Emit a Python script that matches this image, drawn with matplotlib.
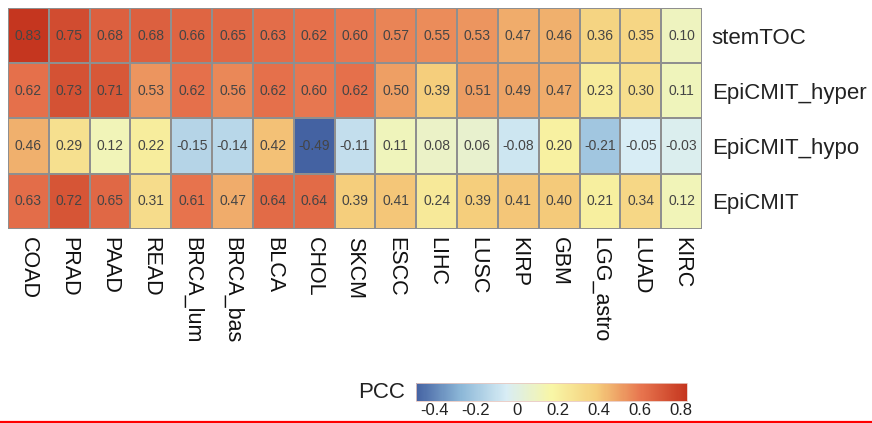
import numpy as np
import matplotlib
matplotlib.use("Agg")
import matplotlib.pyplot as plt
from matplotlib.colors import LinearSegmentedColormap, Normalize
from matplotlib.cm import ScalarMappable
from matplotlib.lines import Line2D

plt.rcParams['font.family'] = ['Liberation Sans', 'DejaVu Sans']

cancers = ["COAD", "PRAD", "PAAD", "READ", "BRCA_lum", "BRCA_bas", "BLCA", "CHOL",
           "SKCM", "ESCC", "LIHC", "LUSC", "KIRP", "GBM", "LGG_astro", "LUAD", "KIRC"]
scores = ["stemTOC", "EpiCMIT_hyper", "EpiCMIT_hypo", "EpiCMIT"]

stemTOC = [0.83, 0.75, 0.68, 0.68, 0.66, 0.65, 0.63, 0.62, 0.60, 0.57, 0.55, 0.53,
           0.47, 0.46, 0.36, 0.35, 0.10]
epicmit_hyper = [0.62, 0.73, 0.71, 0.53, 0.62, 0.56, 0.62, 0.60, 0.62, 0.50, 0.39,
                 0.51, 0.49, 0.47, 0.23, 0.30, 0.11]
epicmit_hypo = [0.46, 0.29, 0.12, 0.22, -0.15, -0.14, 0.42, -0.49, -0.11, 0.11, 0.08,
                0.06, -0.08, 0.20, -0.21, -0.05, -0.03]
epicmit = [0.63, 0.72, 0.65, 0.31, 0.61, 0.47, 0.64, 0.64, 0.39, 0.41, 0.24, 0.39,
           0.41, 0.40, 0.21, 0.34, 0.12]

cbar_ticks = [-0.4, -0.2, 0, 0.2, 0.4, 0.6, 0.8]
cbar_ticklabels = ["-0.4", "-0.2", "0", "0.2", "0.4", "0.6", "0.8"]

pcc = np.array([stemTOC, epicmit_hyper, epicmit_hypo, epicmit])
vmin, vmax = pcc.min(), pcc.max()

# reversed RdYlBu-style ramp spread evenly over the data range
ramp = ["#4462A2", "#8DB8D8", "#D8EDF5", "#F8F6A6", "#F5CE7C", "#E7744E", "#C5361F"]
cmap = LinearSegmentedColormap.from_list("pcc", ramp, N=256)
norm = Normalize(vmin=vmin, vmax=vmax)

W, H = 872, 423
fig = plt.figure(figsize=(W / 100, H / 100), dpi=100)

# heatmap panel
x0, x1, y0, y1 = 8, 702, 8, 229
ax = fig.add_axes([x0 / W, 1 - y1 / H, (x1 - x0) / W, (y1 - y0) / H])
ax.pcolormesh(pcc, cmap=cmap, norm=norm, edgecolors="#8f8f8f", linewidth=1.3)
ax.set_xlim(0, len(cancers))
ax.set_ylim(len(scores), 0)
for i in range(len(scores)):
    for j in range(len(cancers)):
        ax.text(j + 0.5, i + 0.5, f"{pcc[i, j]:.2f}", ha="center", va="center",
                fontsize=10, color="#454545")

for s in ax.spines.values():
    s.set_visible(False)
ax.set_xticks(np.arange(len(cancers)) + 0.5)
ax.set_xticklabels(cancers, rotation=270, ha="center", va="top", fontsize=15.5,
                   color="#111111")
ax.set_yticks(np.arange(len(scores)) + 0.5)
ax.set_yticklabels(scores, fontsize=16, color="#222222")
ax.yaxis.tick_right()
ax.tick_params(axis="x", length=0, pad=6)
ax.tick_params(axis="y", length=0, pad=7)

# colour legend
cx0, cx1, cy0, cy1 = 416, 687, 383, 401
cax = fig.add_axes([cx0 / W, 1 - cy1 / H, (cx1 - cx0) / W, (cy1 - cy0) / H])
cb = fig.colorbar(ScalarMappable(norm=norm, cmap=cmap), cax=cax, orientation="horizontal")
cb.outline.set_edgecolor("#e8c8c0")
cb.outline.set_linewidth(0.6)
cb.set_ticks(cbar_ticks)
cb.set_ticklabels(cbar_ticklabels)
cax.tick_params(length=0, pad=1.5, labelsize=12, labelcolor="#222222")
fig.text(405 / W, 1 - 392 / H, "PCC", ha="right", va="center", fontsize=16,
         color="#222222")

# red rule along the bottom edge
fig.add_artist(Line2D([0, 1], [1.5 / H, 1.5 / H], transform=fig.transFigure,
                      color="#ff0000", linewidth=1.6))

fig.savefig("out.png", dpi=100)
